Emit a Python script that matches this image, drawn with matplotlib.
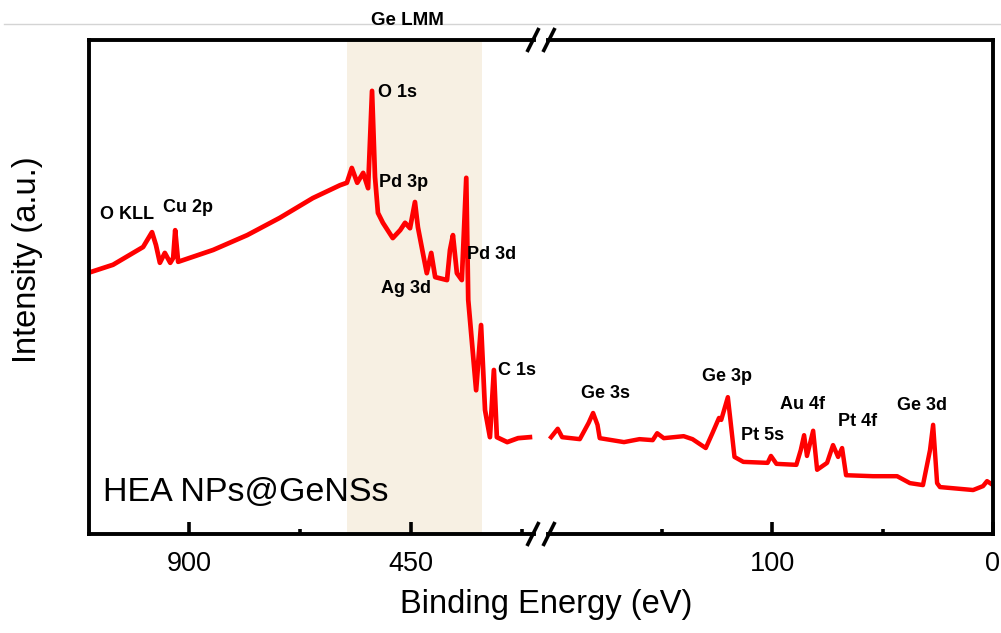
import matplotlib.pyplot as plt
from matplotlib.lines import Line2D
from matplotlib.ticker import FixedLocator, NullLocator

plt.rcParams['font.family'] = ['Liberation Sans', 'DejaVu Sans']

# XPS survey, high binding-energy segment (eV, a.u.)
be_high = [1100, 1054, 993, 975, 967, 959, 949, 938, 932, 928,
           922, 851, 782, 716, 649, 594, 580, 570, 559, 547,
           537, 529, 523, 517, 507, 487, 472, 462, 452, 442,
           436, 426, 418, 409, 401, 377, 371, 365, 357, 347,
           338, 334, 318, 308, 300, 290, 282, 276, 255, 233,
           209]
int_high = [53.0, 54.5, 58.1, 61.1, 58.5, 54.9, 56.9, 54.9, 55.9, 61.5,
            55.1, 57.5, 60.5, 64.0, 68.0, 70.6, 71.1, 74.1, 71.1, 73.1,
            70.0, 89.7, 72.3, 65.0, 63.0, 59.9, 61.5, 63.0, 61.9, 67.2,
            62.1, 56.9, 52.8, 56.9, 52.0, 51.4, 57.5, 60.5, 52.8, 51.4,
            72.1, 47.4, 29.1, 42.3, 25.1, 19.6, 33.2, 19.6, 18.6, 19.4,
            19.6]

# low binding-energy segment
be_low = [200, 197, 195, 187, 183, 181, 179, 178, 167, 160,
          154, 152, 149, 140, 136, 130, 127, 124, 123, 120,
          119, 117, 113, 102, 100.5, 98, 89, 87, 85.5, 84.2,
          81.4, 79.6, 75.1, 72.4, 70.1, 68.3, 66.5, 54.3, 43.4, 37.6,
          31.7, 28.5, 27.1, 25.3, 24.0, 9.0, 4.5, 2.7, 0]
int_low = [19.6, 21.3, 19.6, 19.2, 22.5, 24.5, 22.1, 19.4, 18.6, 19.2,
           19.0, 20.4, 19.4, 19.8, 19.2, 17.4, 20.4, 23.5, 23.1, 27.7,
           23.7, 15.6, 14.6, 14.4, 15.8, 14.2, 14.0, 17.0, 20.0, 15.8,
           20.9, 13.0, 14.4, 18.0, 15.6, 17.4, 11.9, 11.7, 11.7, 10.3,
           9.9, 17.0, 22.1, 10.3, 9.5, 8.9, 9.7, 10.7, 9.9]

# peak assignments: (text, energy, intensity)
labels_high = [("O KLL", 1080, 64.6), ("Cu 2p", 953, 66.0), ("O 1s", 517, 89.3),
               ("Pd 3p", 515, 71.1), ("Ag 3d", 511, 49.6), ("Pd 3d", 336, 56.5),
               ("C 1s", 274, 33.0)]
labels_low = [("Ge 3s", 175.6, 28.5), ("Ge 3p", 120.4, 31.8), ("Pt 5s", 104.5, 20.0),
              ("Au 4f", 86.4, 26.3), ("Pt 4f", 61.5, 22.7), ("Ge 3d", 32.1, 26.1)]

auger_region = (580, 306)

W, H = 1001, 633
fig = plt.figure(figsize=(W / 100, H / 100), dpi=100)

def px_axes(x0, x1, y0, y1):
    return fig.add_axes([x0 / W, 1 - y1 / H, (x1 - x0) / W, (y1 - y0) / H])

ax1 = px_axes(89, 534, 40, 534)
ax2 = px_axes(548, 993, 40, 534)

red = '#ff0000'
ax1.axvspan(*auger_region, color='#f7f0e3', lw=0, zorder=0)
ax1.plot(be_high, int_high, color=red, lw=3.4, solid_joinstyle='round')
ax2.plot(be_low, int_low, color=red, lw=3.2, solid_joinstyle='round')

ax1.set_xlim(1102.7, 200.7)
ax2.set_xlim(201.4, 0)
for ax in (ax1, ax2):
    ax.set_ylim(0, 100)
    ax.yaxis.set_major_locator(NullLocator())
    for s in ax.spines.values():
        s.set_linewidth(2.8)
    ax.tick_params(axis='x', which='major', direction='in', length=8.5, width=2.6,
                   labelsize=19.5, pad=12, top=False)
    ax.tick_params(axis='x', which='minor', direction='in', length=3.8, width=2.6, top=False)
ax1.spines['right'].set_visible(False)
ax2.spines['left'].set_visible(False)

ax1.xaxis.set_major_locator(FixedLocator([900, 450]))
ax1.xaxis.set_minor_locator(FixedLocator([675, 225]))
ax2.xaxis.set_major_locator(FixedLocator([100, 0]))
ax2.xaxis.set_minor_locator(FixedLocator([150, 50]))

for txt, e, i in labels_high:
    ax1.text(e, i, txt, ha='left', va='center', fontsize=13, fontweight='bold')
for txt, e, i in labels_low:
    ax2.text(e, i, txt, ha='center', va='center', fontsize=13, fontweight='bold')

ax1.text(458, 1.04, "Ge LMM", transform=ax1.get_xaxis_transform(),
         ha='center', va='center', fontsize=13.5, fontweight='bold')
ax1.text(0.031, 0.083, "HEA NPs@GeNSs", transform=ax1.transAxes,
         ha='left', va='center', fontsize=24.5)

fig.text(546 / W, 1 - 604 / H, "Binding Energy (eV)", ha='center', va='center', fontsize=23.5)
fig.text(28 / W, 1 - 260 / H, "Intensity (a.u.)", ha='center', va='center',
         rotation=90, fontsize=23.5)

# axis break marks and the thin rule across the top
def px_line(xs, ys, **kw):
    fig.add_artist(Line2D([x / W for x in xs], [1 - y / H for y in ys],
                          transform=fig.transFigure, **kw))

px_line([4, W], [24, 24], color='#d4d4d4', lw=1, zorder=-1)
for yc in (40, 534):
    for xc in (533, 549):
        px_line([xc - 6, xc + 6], [yc + 12, yc - 12], color='black', lw=2.6,
                solid_capstyle='butt')

fig.savefig('out.png', dpi=100)
